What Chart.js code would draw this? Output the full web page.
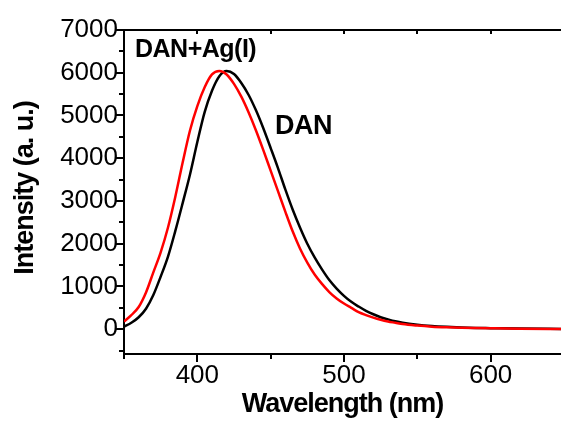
<!DOCTYPE html>
<html>
<head>
<meta charset="utf-8">
<script src="https://cdn.jsdelivr.net/npm/chart.js@4"></script>
<style>
  body { margin: 0; background: #fff; }
  canvas { display: block; }
</style>
</head>
<body>
<canvas id="chart" width="561" height="421"></canvas>
<script>
const wavelengths = [
  350, 355, 360, 365, 370, 375, 380, 385, 390, 395, 400, 405, 410, 415, 420, 425, 430, 435, 440, 445,
  450, 455, 460, 465, 470, 475, 480, 485, 490, 495, 500, 505, 510, 515, 520, 525, 530, 535, 540, 550,
  560, 570, 580, 590, 600, 620, 650,
];
const danAg = [
  180, 330, 520, 860, 1330, 1800, 2380, 3100, 3900, 4650, 5220, 5660, 5960, 6040, 5960, 5740, 5440, 5070, 4650, 4190,
  3710, 3230, 2750, 2290, 1890, 1560, 1280, 1060, 870, 720, 600, 500, 400, 330, 270, 220, 180, 150, 120, 85,
  60, 45, 35, 28, 22, 12, 5,
];
const dan = [
  60, 150, 280, 480, 800, 1230, 1700, 2300, 2950, 3620, 4380, 5080, 5580, 5920, 6040, 5970, 5760, 5480, 5120, 4700,
  4240, 3770, 3270, 2800, 2380, 2000, 1680, 1400, 1150, 950, 780, 640, 530, 430, 350, 280, 230, 185, 150, 105,
  75, 55, 40, 30, 25, 15, 5,
];

const xTicks = [350, 400, 450, 500, 550, 600, 650];
const xLabels = [400, 500, 600];
const yTicks = [-500, 0, 500, 1000, 1500, 2000, 2500, 3000, 3500, 4000, 4500, 5000, 5500, 6000, 6500, 7000];
const yLabels = [0, 1000, 2000, 3000, 4000, 5000, 6000, 7000];

const xTitle = "Wavelength (nm)";
const yTitle = "Intensity (a. u.)";

const family = "'Liberation Sans', Arial, sans-serif";

const toPoints = (values) => wavelengths.map((x, i) => ({ x, y: values[i] }));

// axis ticks (long majors, short minors), the top frame line and the axis titles
const frame = {
  id: "frame",
  afterDraw: (chart) => {
    const { ctx, chartArea } = chart;
    const { x, y } = chart.scales;
    ctx.save();
    ctx.strokeStyle = "#000";
    ctx.lineWidth = 2;
    ctx.beginPath();
    ctx.moveTo(chartArea.left - 1, chartArea.top);
    ctx.lineTo(chartArea.right, chartArea.top);
    for (const v of yTicks) {
      const py = Math.round(y.getPixelForValue(v));
      const len = yLabels.includes(v) ? 8 : 5;
      ctx.moveTo(chartArea.left - len, py);
      ctx.lineTo(chartArea.left, py);
    }
    for (const v of xTicks) {
      if (v < x.min || v > x.max) continue;
      const px = Math.round(x.getPixelForValue(v));
      const len = xLabels.includes(v) ? 8 : 5;
      ctx.moveTo(px, chartArea.bottom);
      ctx.lineTo(px, chartArea.bottom + len);
      ctx.moveTo(px, chartArea.top);
      ctx.lineTo(px, chartArea.top + 4);
    }
    ctx.stroke();

    ctx.fillStyle = "#000";
    ctx.font = `bold 27px ${family}`;
    ctx.letterSpacing = "-1px";
    ctx.textAlign = "center";
    ctx.textBaseline = "middle";
    ctx.fillText(xTitle, (chartArea.left + chartArea.right) / 2, 405);
    ctx.translate(26, (chartArea.top + chartArea.bottom) / 2 - 4);
    ctx.rotate(-Math.PI / 2);
    ctx.fillText(yTitle, 0, 0);
    ctx.restore();
  },
};

const curveLabels = {
  id: "curveLabels",
  afterDatasetsDraw: (chart, args, opts) => {
    const { ctx } = chart;
    const { x, y } = chart.scales;
    ctx.save();
    ctx.fillStyle = "#000";
    ctx.letterSpacing = "-0.5px";
    ctx.textAlign = "left";
    ctx.textBaseline = "middle";
    for (const item of opts.items) {
      ctx.font = `bold ${item.size}px ${family}`;
      ctx.fillText(item.text, x.getPixelForValue(item.x), y.getPixelForValue(item.y));
    }
    ctx.restore();
  },
};

new Chart(document.getElementById("chart").getContext("2d"), {
  type: "line",
  data: {
    datasets: [
      {
        label: "DAN+Ag(I)",
        data: toPoints(danAg),
        borderColor: "#ff0000",
        borderWidth: 2.5,
        pointRadius: 0,
        cubicInterpolationMode: "monotone",
      },
      {
        label: "DAN",
        data: toPoints(dan),
        borderColor: "#000000",
        borderWidth: 2.5,
        pointRadius: 0,
        cubicInterpolationMode: "monotone",
      },
    ],
  },
  options: {
    responsive: false,
    animation: false,
    layout: { padding: { top: 30, left: 0, right: 0, bottom: 0 } },
    plugins: {
      legend: { display: false },
      tooltip: { enabled: false },
      curveLabels: {
        items: [
          { text: "DAN+Ag(I)", x: 357.5, y: 6530, size: 25 },
          { text: "DAN", x: 453, y: 4730, size: 27 },
        ],
      },
    },
    scales: {
      x: {
        type: "linear",
        min: 350,
        max: 648,
        afterBuildTicks: (s) => {
          s.ticks = xTicks.filter((v) => v <= 648).map((value) => ({ value }));
        },
        afterFit: (s) => {
          s.height = 67;
        },
        ticks: {
          autoSkip: false,
          maxRotation: 0,
          padding: 6,
          color: "#000",
          font: { family, size: 26 },
          callback: (v) => (xLabels.includes(v) ? String(v) : ""),
        },
        grid: { display: true, drawOnChartArea: false, drawTicks: false },
        border: { color: "#000", width: 2 },
      },
      y: {
        min: -580,
        max: 7000,
        afterBuildTicks: (s) => {
          s.ticks = yTicks.map((value) => ({ value }));
        },
        afterFit: (s) => {
          s.width = 124;
        },
        ticks: {
          autoSkip: false,
          padding: 6,
          color: "#000",
          font: { family, size: 26 },
          callback: (v) => (yLabels.includes(v) ? String(v) : ""),
        },
        grid: { display: true, drawOnChartArea: false, drawTicks: false },
        border: { color: "#000", width: 2 },
      },
    },
  },
  plugins: [frame, curveLabels],
});
</script>
</body>
</html>
